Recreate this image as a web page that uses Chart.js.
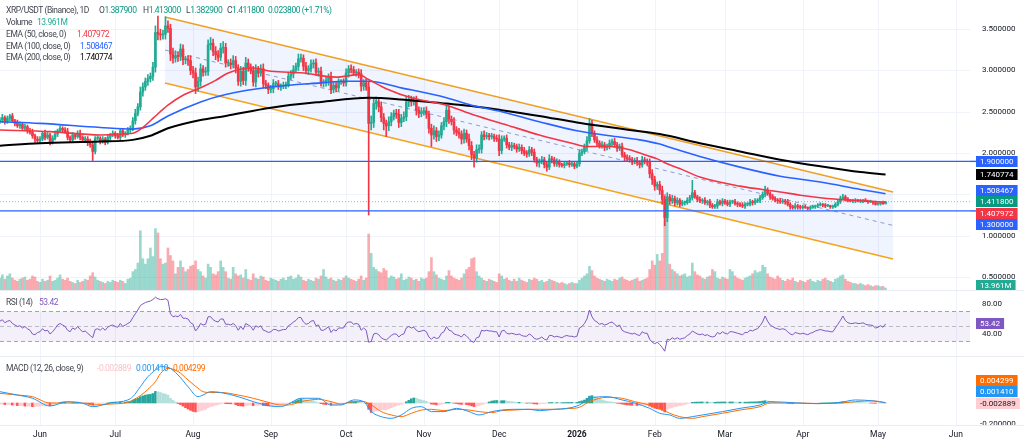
<!DOCTYPE html>
<html>
<head>
<meta charset="utf-8">
<title>XRP/USDT (Binance), 1D</title>
<script src="https://cdn.jsdelivr.net/npm/chart.js@4.4.1/dist/chart.umd.min.js"></script>
<style>
html,body{margin:0;padding:0;background:#fff;}
#wrap{position:relative;width:1024px;height:445px;overflow:hidden;font-family:Roboto,"Noto Sans",sans-serif;}
canvas{position:absolute;left:0;display:block;}
.t{position:absolute;font-size:8.5px;line-height:10px;color:#434651;white-space:nowrap;letter-spacing:-0.45px;}
</style>
</head>
<body>
<div id="wrap">
  <canvas id="cMain" width="1024" height="291" style="top:0"></canvas>
  <canvas id="cRsi" width="1024" height="66" style="top:291px"></canvas>
  <canvas id="cMacd" width="1024" height="88" style="top:357px"></canvas>

  <span class="t" style="left:6px;top:5px">XRP/USDT (Binance), 1D</span>
  <span class="t" style="left:99px;top:5px">O<span style="color:#089981">1.387900</span></span>
  <span class="t" style="left:143px;top:5px">H<span style="color:#089981">1.413000</span></span>
  <span class="t" style="left:186px;top:5px">L<span style="color:#089981">1.382900</span></span>
  <span class="t" style="left:227px;top:5px">C<span style="color:#089981">1.411800</span></span>
  <span class="t" style="left:268px;top:5px;color:#089981">0.023800 (+1.71%)</span>

  <span class="t" style="left:6px;top:17px">Volume</span>
  <span class="t" style="left:37px;top:17px;color:#22ab94">13.961M</span>
  <span class="t" style="left:6px;top:29px">EMA (50, close, 0)</span>
  <span class="t" style="left:77px;top:29px;color:#f23645">1.407972</span>
  <span class="t" style="left:6px;top:40.5px">EMA (100, close, 0)</span>
  <span class="t" style="left:80px;top:40.5px;color:#2962ff">1.508467</span>
  <span class="t" style="left:6px;top:52px">EMA (200, close, 0)</span>
  <span class="t" style="left:80px;top:52px;color:#000">1.740774</span>

  <span class="t" style="left:6px;top:297px">RSI (14)</span>
  <span class="t" style="left:39px;top:297px;color:#7e57c2">53.42</span>

  <span class="t" style="left:6px;top:363px">MACD (12, 26, close, 9)</span>
  <span class="t" style="left:97px;top:363px;color:#f8c4cc">-0.002889</span>
  <span class="t" style="left:136px;top:363px;color:#2196f3">0.001410</span>
  <span class="t" style="left:173px;top:363px;color:#ff6d00">0.004299</span>
</div>
<script>
// ---------------- DATA ----------------
// day index: 0 = 2025-06-01 ; first candle is day -16 (2025-05-16)
const START_DAY = -16;
const FIRST_OPEN = 2.38;

const closes = [
// May 16-31
2.40,2.43,2.38,2.42,2.45,2.39,2.36,2.33,2.35,2.30,2.32,2.27,2.25,2.21,2.17,2.15,
// Jun
2.17,2.24,2.19,2.22,2.14,2.18,2.23,2.27,2.30,2.28,2.26,2.19,2.16,2.22,2.20,2.24,2.19,2.16,2.17,2.13,2.10,2.02,2.18,2.18,2.14,2.17,2.13,2.19,2.22,2.24,
// Jul
2.21,2.19,2.27,2.22,2.24,2.28,2.30,2.39,2.48,2.56,2.74,2.80,2.87,2.90,2.93,3.04,3.46,3.44,3.43,3.44,3.54,3.51,3.20,3.15,3.18,3.17,3.26,3.13,3.13,3.12,3.00,
// Aug
2.97,2.80,2.87,3.02,2.98,2.99,3.31,3.33,3.23,3.19,3.16,3.27,3.28,3.09,3.09,3.07,3.12,3.03,2.87,2.99,2.88,3.09,3.04,3.00,2.86,3.01,2.97,3.02,2.84,2.82,2.77,
// Sep
2.78,2.84,2.84,2.80,2.81,2.82,2.83,2.93,2.96,3.01,3.05,3.14,3.15,3.05,3.00,3.02,3.08,3.09,2.98,2.99,2.85,2.85,2.88,2.92,2.77,2.82,2.79,2.86,2.86,2.85,
// Oct
2.97,3.02,3.01,2.97,2.98,2.96,2.81,2.85,2.80,2.36,2.37,2.60,2.62,2.56,2.43,2.36,2.33,2.38,2.44,2.48,2.47,2.37,2.42,2.44,2.62,2.65,2.62,2.63,2.52,2.48,2.50,
// Nov
2.51,2.47,2.30,2.22,2.27,2.20,2.22,2.33,2.38,2.52,2.41,2.38,2.28,2.25,2.23,2.17,2.24,2.17,2.09,1.98,1.94,2.04,2.05,2.22,2.20,2.21,2.20,2.20,2.18,2.17,
// Dec
2.03,2.17,2.18,2.10,2.07,2.09,2.08,2.05,2.07,2.03,2.00,1.99,2.04,2.01,1.92,1.88,1.90,1.92,1.86,1.83,1.93,1.92,1.87,1.89,1.86,1.85,1.87,1.88,1.86,1.87,1.84,
// Jan 2026
1.87,2.00,2.02,2.07,2.15,2.36,2.24,2.16,2.12,2.09,2.10,2.07,2.08,2.12,2.14,2.10,2.06,2.08,1.98,1.95,1.93,1.92,1.90,1.91,1.88,1.86,1.92,1.90,1.89,1.75,1.68,
// Feb
1.60,1.62,1.55,1.44,1.22,1.47,1.42,1.45,1.40,1.43,1.38,1.40,1.40,1.43,1.46,1.52,1.47,1.44,1.42,1.43,1.40,1.41,1.37,1.35,1.36,1.41,1.39,1.42,
// Mar
1.40,1.38,1.41,1.41,1.39,1.38,1.37,1.36,1.38,1.38,1.41,1.40,1.42,1.43,1.46,1.50,1.55,1.51,1.47,1.45,1.43,1.42,1.41,1.42,1.41,1.38,1.35,1.34,1.36,1.35,1.34,
// Apr
1.35,1.34,1.33,1.34,1.35,1.36,1.37,1.38,1.37,1.36,1.36,1.35,1.35,1.38,1.41,1.45,1.47,1.44,1.43,1.42,1.42,1.43,1.42,1.42,1.43,1.42,1.41,1.41,1.40,1.38,
// May 1-4
1.39,1.40,1.3879,1.4118
];

// wick lengths above / below the candle body, in hundredths of a dollar
const upWick = [
3,4,2,3,2,3,2,4,3,2,3,2,3,4,2,3,
3,2,4,3,2,3,4,2,3,2,3,4,2,3,2,3,4,2,3,3,4,3,2,3,2,3,2,3,2,3,
2,3,2,3,2,3,3,4,5,4,6,5,4,5,4,6,8,20,6,5,11,6,5,7,6,5,6,5,4,5,6,
5,6,5,6,4,5,6,7,5,6,5,6,7,5,4,5,6,5,4,6,5,7,5,4,5,6,4,5,6,4,3,
4,5,3,4,3,4,3,5,4,5,4,6,5,4,5,4,5,4,5,4,5,4,5,4,6,4,5,4,3,4,
5,4,5,4,3,4,5,4,5,6,8,7,6,5,6,5,4,6,5,4,5,6,5,6,7,5,4,5,6,4,5,
4,5,4,5,6,4,5,4,5,6,5,4,5,4,5,4,5,4,6,5,4,6,5,4,5,4,3,4,3,4,
5,4,3,4,3,4,3,3,4,3,4,3,4,3,4,3,3,4,3,4,5,3,3,4,3,2,3,2,3,2,3,
3,4,3,4,5,6,4,3,4,3,4,3,3,4,3,4,3,3,4,3,3,4,3,3,4,3,4,3,3,4,5,
4,3,4,5,4,5,3,4,3,3,2,3,2,3,3,15,3,2,3,2,3,2,3,2,2,3,2,3,
2,3,2,2,3,2,2,3,2,2,3,2,3,2,3,3,5,3,2,3,2,2,3,2,2,3,2,2,3,2,2,
2,2,1,2,2,1,2,2,1,2,2,1,2,2,2,3,3,2,2,1,2,2,1,2,1,2,1,2,1,2,
1,1,2,0.12
];
const downWick = [
2,3,3,2,3,2,3,2,3,2,3,3,2,3,4,2,
3,2,3,2,4,3,2,3,2,3,2,3,3,2,3,2,3,2,3,4,3,11,3,2,3,2,3,2,3,2,
3,2,3,2,3,2,3,3,4,3,4,5,4,5,4,5,6,7,6,5,6,5,8,6,5,6,5,6,5,6,5,
6,8,5,6,5,4,5,6,5,6,5,4,6,5,4,5,4,6,5,6,5,6,5,4,5,6,5,4,5,4,5,
4,5,4,3,4,3,4,3,4,5,4,5,4,5,4,5,4,5,4,5,4,5,4,6,5,4,5,4,3,4,
4,5,4,3,4,5,6,5,4,111,8,6,7,6,5,8,13,6,5,4,5,6,5,4,5,6,5,4,6,5,4,
4,5,6,14,5,6,5,4,5,6,5,4,5,4,5,6,5,4,5,6,11,5,4,5,4,3,4,3,4,3,
6,4,3,4,3,4,3,4,3,4,3,4,3,4,3,4,5,3,4,5,3,4,3,3,3,2,3,2,3,2,3,
2,3,3,3,4,3,4,3,4,3,3,4,3,3,4,3,4,3,3,4,3,3,4,3,3,4,3,3,4,5,6,
5,4,5,6,10,5,4,3,4,3,3,2,3,2,3,3,2,3,2,3,2,3,3,2,2,3,2,3,
2,2,3,2,2,3,2,2,3,2,2,3,2,2,3,2,3,2,3,2,2,3,2,2,3,2,3,2,2,3,2,
2,1,2,2,1,2,2,1,2,2,1,2,2,1,2,2,1,2,2,1,2,2,1,2,2,1,2,1,2,1,
1,2,1,0.5
];

// daily volume, millions of XRP
const volumes = [
60,75,55,70,80,60,50,45,55,60,65,50,55,70,65,45,
40,55,45,50,70,45,50,60,75,55,50,60,45,40,35,50,40,45,55,50,70,85,65,50,45,40,35,45,40,50,
45,40,50,45,35,55,60,90,100,130,280,150,125,150,200,160,290,270,150,125,130,200,165,140,80,110,140,110,90,100,115,
120,140,100,90,70,60,125,110,80,75,90,140,110,90,60,55,110,80,70,75,60,100,55,50,80,60,55,70,65,50,45,
60,55,50,45,55,60,50,65,70,55,60,75,65,50,45,55,50,45,60,55,70,100,65,55,60,50,45,55,50,60,
70,60,55,50,45,55,70,50,60,265,175,110,100,90,85,105,95,60,70,65,55,60,80,50,55,65,60,50,55,45,60,
55,60,90,155,90,75,60,55,50,70,95,70,60,55,50,60,80,100,110,150,155,90,70,60,50,45,55,50,45,40,
80,70,55,60,50,45,55,45,60,50,45,40,55,50,60,55,45,50,40,45,55,50,45,40,35,40,35,30,35,40,35,
35,50,60,70,80,115,95,70,60,55,50,45,55,50,45,55,50,60,65,55,50,45,50,55,60,45,50,55,60,100,140,
120,170,140,175,450,420,125,100,90,80,70,75,80,65,70,130,90,75,70,60,55,65,70,100,90,60,55,65,
60,55,100,90,70,60,55,50,60,65,70,80,95,85,90,120,110,80,65,60,55,70,60,50,45,55,50,60,45,40,50,
45,40,50,55,45,40,50,45,55,60,50,45,40,55,60,70,75,55,45,40,35,35,30,35,30,25,30,25,20,25,
25,20,22,13.961
];

const rsiValues = [
57,59,55,57,58,54,52,50,51,48,50,47,45,40,39,42,
43,47,44,45,40,43,47,52,54,52,50,45,43,48,46,50,46,43,44,41,38,35,46,47,45,48,45,49,51,52,
50,49,54,50,52,54,56,62,67,72,78,80,82,83,84,86,89,87,86,86,87,85,67,63,64,63,66,61,61,60,55,
53,44,48,54,52,53,63,63,59,57,56,60,60,53,53,52,54,51,45,50,46,54,52,50,45,51,49,51,45,44,42,
43,46,46,44,45,46,46,51,53,56,58,62,62,56,53,54,57,58,51,52,45,45,47,50,42,46,44,48,48,48,
54,56,56,53,54,53,45,48,45,29,30,40,41,39,35,33,32,35,38,40,40,36,39,40,48,50,48,49,45,43,44,
45,43,36,33,36,34,35,41,43,50,45,44,40,39,38,36,40,37,34,30,29,35,36,45,44,45,44,44,43,43,
36,44,45,41,40,41,40,39,40,38,37,37,40,38,34,33,34,36,33,32,38,38,36,37,36,35,37,38,37,37,36,
37,48,50,54,60,72,63,58,56,53,54,52,53,55,56,53,50,52,45,43,42,41,40,41,39,38,43,41,41,33,29,
27,29,26,22,17,33,32,35,33,35,33,34,35,38,40,44,42,40,39,40,38,39,37,36,37,42,40,43,
41,40,43,43,42,41,40,39,42,42,45,44,46,47,51,56,64,57,52,50,48,47,46,47,46,43,40,39,42,41,40,
41,40,39,41,42,44,45,46,45,44,44,43,43,48,53,58,64,58,55,54,54,55,54,54,55,53,52,52,51,48,
49,51,49,53.42
];

const macdHist = [
-0.01,-0.01,-0.015,-0.015,-0.015,-0.02,-0.02,-0.025,-0.025,-0.025,-0.03,-0.03,-0.03,-0.035,-0.035,-0.03,
-0.03,-0.025,-0.025,-0.02,-0.025,-0.02,-0.015,-0.005,0.005,0.01,0.01,0.005,0,0.005,0.005,0.008,0.005,0,-0.002,-0.006,-0.012,-0.02,-0.012,-0.008,-0.007,-0.004,-0.004,0,0.004,0.008,
0.008,0.007,0.01,0.008,0.009,0.012,0.015,0.025,0.035,0.045,0.06,0.068,0.075,0.08,0.082,0.09,0.11,0.105,0.1,0.09,0.085,0.075,0.045,0.025,0.01,-0.005,-0.015,-0.03,-0.045,-0.058,-0.07,
-0.08,-0.085,-0.082,-0.075,-0.068,-0.06,-0.045,-0.035,-0.028,-0.022,-0.015,-0.008,-0.004,-0.006,-0.007,-0.008,-0.008,-0.015,-0.025,-0.028,-0.03,-0.025,-0.022,-0.02,-0.025,-0.022,-0.022,-0.02,-0.024,-0.026,-0.028,
-0.028,-0.025,-0.022,-0.02,-0.018,-0.014,-0.01,-0.004,0.002,0.012,0.022,0.03,0.038,0.036,0.03,0.026,0.024,0.02,0.01,0.004,-0.006,-0.012,-0.015,-0.015,-0.022,-0.02,-0.02,-0.015,-0.012,-0.008,
-0.002,0.006,0.012,0.012,0.012,0.01,0.002,0,-0.006,-0.06,-0.09,-0.085,-0.075,-0.068,-0.065,-0.065,-0.065,-0.055,-0.045,-0.035,-0.025,-0.02,-0.012,-0.002,0.012,0.025,0.04,0.048,0.045,0.035,0.028,
0.022,0.015,0.002,-0.01,-0.012,-0.018,-0.018,-0.012,-0.006,0.006,0.006,0.004,-0.002,-0.006,-0.01,-0.014,-0.012,-0.015,-0.02,-0.028,-0.034,-0.03,-0.026,-0.016,-0.008,-0.002,0.01,0.018,0.022,0.024,
0.018,0.022,0.022,0.018,0.015,0.012,0.01,0.006,0.006,0.003,0,-0.002,0,-0.002,-0.008,-0.01,-0.01,-0.006,-0.006,-0.002,0.004,0.005,0.004,0.004,0.003,0.003,0.004,0.005,0.005,0.006,0.005,
0.006,0.014,0.02,0.028,0.045,0.065,0.07,0.06,0.05,0.04,0.03,0.022,0.015,0.012,0.01,0.005,-0.002,-0.004,-0.01,-0.014,-0.018,-0.02,-0.022,-0.022,-0.024,-0.024,-0.02,-0.02,-0.02,-0.03,-0.04,
-0.05,-0.055,-0.06,-0.07,-0.085,-0.06,-0.05,-0.042,-0.035,-0.03,-0.025,-0.02,-0.014,-0.008,-0.002,0.006,0.008,0.009,0.009,0.01,0.009,0.009,0.008,0.007,0.007,0.009,0.009,0.01,
0.01,0.009,0.01,0.01,0.009,0.008,0.008,0.007,0.008,0.008,0.01,0.01,0.011,0.012,0.014,0.018,0.022,0.02,0.016,0.012,0.008,0.005,0.003,0.002,0,-0.003,-0.006,-0.007,-0.006,-0.006,-0.006,
-0.005,-0.005,-0.005,-0.004,-0.003,-0.002,-0.001,0,0.001,0.001,0.001,0.001,0.001,0.003,0.006,0.009,0.012,0.011,0.01,0.008,0.007,0.006,0.005,0.004,0.003,0.002,0,-0.001,-0.002,-0.003,
-0.003,-0.003,-0.003,-0.002889
];

// [day, value] samples
const macdLine = [[-16,0.108],[-9,0.076],[-3,0.045],[4,-0.029],[11,0.013],[17,-0.003],[21,-0.035],[28,0.0],[35,0.029],[37,0.06],[40,0.155],[43,0.25],[46,0.314],[48,0.346],[51,0.34],[55,0.267],[59,0.155],[63,0.06],[65,0.076],[68,0.108],[72,0.1],[79,0.06],[85,0.013],[92,-0.029],[96,-0.035],[99,-0.01],[104,0.045],[111,0.045],[116,-0.019],[120,-0.019],[125,0.029],[129,0.013],[132,-0.082],[136,-0.13],[140,-0.146],[144,-0.114],[148,-0.051],[152,-0.035],[156,-0.082],[161,-0.082],[166,-0.051],[171,-0.082],[175,-0.114],[180,-0.082],[184,-0.067],[189,-0.06],[195,-0.06],[199,-0.073],[205,-0.06],[210,-0.051],[215,-0.019],[219,0.045],[226,0.06],[232,0.029],[237,0.0],[243,-0.051],[247,-0.098],[251,-0.114],[255,-0.146],[260,-0.13],[264,-0.114],[272,-0.082],[279,-0.051],[287,-0.019],[291,0.013],[302,0.0],[310,-0.006],[319,0.006],[325,0.029],[332,0.02],[337,0.00141]];
const signalLine = [[-16,0.092],[-9,0.076],[-3,0.06],[4,0.0],[11,0.0],[17,0.0],[21,-0.019],[28,-0.01],[35,0.006],[37,0.029],[40,0.07],[43,0.13],[46,0.203],[48,0.28],[51,0.33],[55,0.3],[59,0.22],[63,0.14],[65,0.108],[68,0.1],[72,0.1],[79,0.076],[85,0.045],[92,0.0],[96,-0.019],[99,-0.019],[104,0.013],[111,0.035],[116,0.013],[120,-0.01],[125,0.013],[129,0.013],[132,-0.019],[136,-0.082],[140,-0.114],[144,-0.13],[148,-0.098],[152,-0.067],[156,-0.06],[161,-0.073],[166,-0.06],[171,-0.067],[175,-0.082],[180,-0.092],[184,-0.073],[189,-0.067],[195,-0.06],[199,-0.06],[205,-0.06],[210,-0.054],[215,-0.041],[219,0.013],[226,0.054],[232,0.045],[237,0.013],[243,-0.019],[247,-0.051],[251,-0.098],[255,-0.13],[260,-0.146],[264,-0.13],[272,-0.098],[279,-0.067],[287,-0.035],[291,0.0],[302,0.0],[310,-0.006],[319,0.0],[325,0.013],[332,0.02],[337,0.004299]];

const ema50 = [[-16,2.28],[4,2.26],[24,2.22],[37,2.24],[41,2.31],[45,2.42],[51,2.58],[57,2.70],[64,2.79],[70,2.88],[75,2.97],[85,3.03],[92,2.99],[105,2.97],[118,2.92],[127,2.95],[131,2.89],[138,2.78],[148,2.67],[162,2.58],[173,2.46],[186,2.34],[199,2.22],[212,2.12],[218,2.08],[227,2.08],[235,2.04],[242,1.97],[246,1.93],[250,1.87],[256,1.80],[263,1.71],[279,1.60],[295,1.53],[303,1.49],[311,1.46],[323,1.43],[337,1.407972]];
const ema100 = [[-16,2.38],[0,2.36],[24,2.31],[37,2.29],[44,2.33],[51,2.45],[64,2.62],[74,2.71],[92,2.80],[112,2.85],[122,2.87],[131,2.87],[144,2.79],[162,2.67],[172,2.58],[184,2.50],[199,2.38],[214,2.27],[227,2.21],[239,2.16],[247,2.11],[250,2.08],[263,1.96],[279,1.83],[295,1.72],[311,1.65],[327,1.56],[337,1.508467]];
const ema200 = [[-16,2.09],[0,2.12],[24,2.14],[37,2.16],[44,2.21],[51,2.30],[64,2.40],[74,2.45],[92,2.55],[112,2.62],[131,2.67],[144,2.65],[162,2.60],[172,2.57],[184,2.52],[199,2.45],[214,2.37],[223,2.33],[235,2.28],[247,2.23],[263,2.12],[279,2.02],[295,1.92],[311,1.84],[327,1.77],[337,1.740774]];

// descending channel drawn on the chart: [day, price]
const channelUpper = [[49.8,3.648],[340,1.529]];
const channelLower = [[49.8,2.849],[340,0.718]];
const channelMid   = [[49.8,3.248],[340,1.124]];
const levels = [1.9, 1.3];
const lastPrice = 1.4118;

const monthTicks = [[0,'Jun'],[30,'Jul'],[61,'Aug'],[92,'Sep'],[122,'Oct'],[153,'Nov'],[183,'Dec'],[214,'2026'],[245,'Feb'],[273,'Mar'],[304,'Apr'],[334,'May'],[365,'Jun']];
const priceTicks = [0.5,1,1.5,2,2.5,3,3.5];
const rsiTicks = [40,80];
const macdTicks = [-0.2];
const priceBoxes = [
  {v:1.9,      text:'1.900000', bg:'#2962ff', fg:'#fff'},
  {v:1.740774, text:'1.740774', bg:'#000000', fg:'#fff'},
  {v:1.508467, text:'1.508467', bg:'#2962ff', fg:'#fff'},
  {v:1.4118,   text:'1.411800', bg:'#089981', fg:'#fff', anchor:true},
  {v:1.407972, text:'1.407972', bg:'#f23645', fg:'#fff'},
  {v:1.3,      text:'1.300000', bg:'#2962ff', fg:'#fff'}
];
const macdBoxes = [
  {v:0.004299,  text:'0.004299',  bg:'#ff6d00', fg:'#fff'},
  {v:0.00141,   text:'0.001410',  bg:'#2196f3', fg:'#fff'},
  {v:-0.002889, text:'-0.002889', bg:'#ffcdd2', fg:'#131722', anchor:true}
];

// ---------------- LAYOUT ----------------
const X_MIN = -15.94, X_MAX = 370.66, AXIS_W = 54;
const UP = '#22ab94', DN = '#f23645';
const UPV = 'rgba(34,171,148,0.45)', DNV = 'rgba(242,54,69,0.42)';
const FONT = 'Roboto, "Noto Sans", sans-serif';

[upWick, downWick, volumes, rsiValues, macdHist].forEach((a,k)=>{
  if (a.length !== closes.length) console.error('length mismatch', k, a.length, closes.length);
});

const days = closes.map((_, i) => START_DAY + i);
const opens = closes.map((c, i) => i === 0 ? FIRST_OPEN : closes[i-1]);
const highs = closes.map((c, i) => Math.max(opens[i], c) + upWick[i]/100);
const lows  = closes.map((c, i) => Math.min(opens[i], c) - downWick[i]/100);
const isUp  = closes.map((c, i) => c >= opens[i]);
const pts = arr => arr.map(([x,y]) => ({x, y}));
const hline = v => [{x:X_MIN,y:v},{x:X_MAX,y:v}];

const gridPlugin = {
  id: 'tvGrid',
  beforeDatasetsDraw(chart, args, opts) {
    const {ctx, chartArea:a, scales} = chart;
    ctx.save();
    ctx.strokeStyle = '#f0f3fa'; ctx.lineWidth = 1;
    monthTicks.forEach(([d]) => {
      const x = Math.round(scales.x.getPixelForValue(d)) + 0.5;
      ctx.beginPath(); ctx.moveTo(x, a.top); ctx.lineTo(x, a.bottom); ctx.stroke();
    });
    (opts.hLines || []).forEach(v => {
      const y = Math.round(scales.y.getPixelForValue(v)) + 0.5;
      ctx.beginPath(); ctx.moveTo(a.left, y); ctx.lineTo(a.right, y); ctx.stroke();
    });
    ctx.restore();
  }
};

function drawBox(ctx, text, yc, bg, fg) {
  const w = ctx.measureText(text).width + 8;
  ctx.fillStyle = bg;
  ctx.fillRect(976, Math.round(yc - 5.5), w, 11);
  ctx.fillStyle = fg;
  ctx.fillText(text, 980, yc + 0.5);
}
function stackBoxes(list, yOf, H) {
  const b = list.map(o => Object.assign({}, o, {y: yOf(o.v)})).sort((p,q) => p.y - q.y);
  const ai = b.findIndex(o => o.anchor);
  for (let i = ai - 1; i >= 0; i--) b[i].y = Math.min(b[i].y, b[i+1].y - H);
  for (let i = ai + 1; i < b.length; i++) b[i].y = Math.max(b[i].y, b[i-1].y + H);
  return b;
}
function sepLine(ctx, y) {
  ctx.save(); ctx.strokeStyle = '#e9ecf2'; ctx.lineWidth = 1;
  ctx.beginPath(); ctx.moveTo(0, y); ctx.lineTo(1024, y); ctx.stroke(); ctx.restore();
}

const common = (padBottom) => ({
  responsive: false, animation: false, events: [],
  layout: {padding: {left: 0, right: AXIS_W, top: 0, bottom: padBottom}},
});

// ---------------- MAIN PANE ----------------
const mainLabels = {
  id: 'mainLabels',
  afterDraw(chart) {
    const {ctx, scales} = chart;
    ctx.save();
    ctx.font = '8px ' + FONT; ctx.textAlign = 'left'; ctx.textBaseline = 'middle';
    ctx.fillStyle = '#131722';
    priceTicks.forEach(v => ctx.fillText(v.toFixed(6), 982, scales.y.getPixelForValue(v)));
    ctx.strokeStyle = '#2962ff'; ctx.lineWidth = 1.4;
    levels.forEach(v => { const y = scales.y.getPixelForValue(v); ctx.beginPath(); ctx.moveTo(970, y); ctx.lineTo(976, y); ctx.stroke(); });
    stackBoxes(priceBoxes, v => scales.y.getPixelForValue(v), 11.5)
      .forEach(b => drawBox(ctx, b.text, b.y, b.bg, b.fg));
    const vy = Math.min(scales.yv.getPixelForValue(volumes[volumes.length-1]), 285);
    drawBox(ctx, '13.961M', vy, '#22ab94', '#fff');
    ctx.restore();
    sepLine(ctx, 290.5);
  }
};

new Chart(document.getElementById('cMain'), {
  type: 'bar',
  data: { datasets: [
    {type:'bar', data: days.map((d,i)=>({x:d, y:volumes[i]})), yAxisID:'yv',
     backgroundColor: isUp.map(u => u ? UPV : DNV), barThickness: 2, grouped: false, order: 100},
    {type:'line', data: pts(channelUpper), borderColor:'#f7a21b', borderWidth:1.5, pointRadius:0, fill:false, order: 90},
    {type:'line', data: pts(channelLower), borderColor:'#f7a21b', borderWidth:1.5, pointRadius:0,
     fill:'-1', backgroundColor:'rgba(41,98,255,0.07)', order: 89},
    {type:'line', data: pts(channelMid), borderColor:'#8e9cc6', borderWidth:1, borderDash:[4,4], pointRadius:0, order: 88},
    {type:'line', data: hline(lastPrice), borderColor:'rgba(8,153,129,0.55)', borderWidth:1, borderDash:[1,2], pointRadius:0, order: 80},
    {type:'bar', data: days.map((d,i)=>({x:d, y:[lows[i], highs[i]]})),
     backgroundColor: isUp.map(u => u ? UP : DN), barThickness: 1, grouped: false, order: 50},
    {type:'bar', data: days.map((d,i)=>({x:d, y:[opens[i], closes[i]]})),
     backgroundColor: isUp.map(u => u ? UP : DN), barThickness: 2, minBarLength: 1, grouped: false, order: 49},
    ...levels.map(v => ({type:'line', data: hline(v), borderColor:'#2962ff', borderWidth:1.4, pointRadius:0, order: 45})),
    {type:'line', data: pts(ema200), borderColor:'#000000', borderWidth:2, pointRadius:0, cubicInterpolationMode:'monotone', order: 30},
    {type:'line', data: pts(ema100), borderColor:'#2962ff', borderWidth:1.6, pointRadius:0, cubicInterpolationMode:'monotone', order: 29},
    {type:'line', data: pts(ema50),  borderColor:'#f23645', borderWidth:1.6, pointRadius:0, cubicInterpolationMode:'monotone', order: 28}
  ]},
  options: Object.assign(common(0), {
    plugins: {legend:{display:false}, tooltip:{enabled:false}, tvGrid:{hLines: priceTicks}},
    scales: {
      x: {type:'linear', min:X_MIN, max:X_MAX, display:false, offset:false},
      y: {type:'linear', min:0.3305, max:3.8535, display:false, beginAtZero:false},
      yv:{type:'linear', min:0, max:1353, display:false}
    }
  }),
  plugins: [gridPlugin, mainLabels]
});

// ---------------- RSI PANE ----------------
const rsiLabels = {
  id: 'rsiLabels',
  afterDraw(chart) {
    const {ctx, scales} = chart;
    ctx.save();
    ctx.font = '8px ' + FONT; ctx.textAlign = 'left'; ctx.textBaseline = 'middle';
    ctx.fillStyle = '#131722';
    rsiTicks.forEach(v => ctx.fillText(v.toFixed(2), 982, scales.y.getPixelForValue(v)));
    const last = rsiValues[rsiValues.length-1];
    drawBox(ctx, last.toFixed(2), scales.y.getPixelForValue(last), '#7e57c2', '#fff');
    ctx.restore();
    sepLine(ctx, 65.5);
  }
};
new Chart(document.getElementById('cRsi'), {
  type: 'line',
  data: { datasets: [
    {data: hline(70), borderColor:'#a3a6af', borderWidth:1, borderDash:[4,3], pointRadius:0, fill:false, order: 10},
    {data: hline(30), borderColor:'#a3a6af', borderWidth:1, borderDash:[4,3], pointRadius:0, fill:'-1', backgroundColor:'rgba(126,87,194,0.09)', order: 9},
    {data: hline(50), borderColor:'rgba(163,166,175,0.7)', borderWidth:1, borderDash:[4,3], pointRadius:0, order: 8},
    {data: days.map((d,i)=>({x:d, y:rsiValues[i]})), borderColor:'#7e57c2', borderWidth:1, pointRadius:0, order: 1}
  ]},
  options: Object.assign(common(0), {
    plugins: {legend:{display:false}, tooltip:{enabled:false}, tvGrid:{}},
    scales: {
      x: {type:'linear', min:X_MIN, max:X_MAX, display:false, offset:false},
      y: {type:'linear', min:9.33, max:97.33, display:false}
    }
  }),
  plugins: [gridPlugin, rsiLabels]
});

// ---------------- MACD PANE ----------------
const histColors = macdHist.map((v, i) => {
  const p = i ? macdHist[i-1] : v;
  if (v >= 0) return v >= p ? '#26a69a' : '#b2dfdb';
  return v < p ? '#ff5252' : '#ffcdd2';
});
const macdLabels = {
  id: 'macdLabels',
  afterDraw(chart) {
    const {ctx, scales, chartArea:a} = chart;
    ctx.save();
    ctx.font = '8px ' + FONT; ctx.textAlign = 'left'; ctx.textBaseline = 'middle';
    ctx.save();
    ctx.beginPath(); ctx.rect(a.right, 0, 1024 - a.right, a.bottom + 0.5); ctx.clip();
    ctx.fillStyle = '#131722';
    macdTicks.forEach(v => ctx.fillText(v.toFixed(6), 980, scales.y.getPixelForValue(v)));
    ctx.restore();
    stackBoxes(macdBoxes, v => scales.y.getPixelForValue(v), 11.5)
      .forEach(b => drawBox(ctx, b.text, b.y, b.bg, b.fg));
    ctx.textAlign = 'center'; ctx.fillStyle = '#131722';
    monthTicks.forEach(([d, t]) => {
      ctx.font = (t === '2026' ? 'bold ' : '') + '8.5px ' + FONT;
      ctx.fillText(t, scales.x.getPixelForValue(d), 78);
    });
    ctx.restore();
    sepLine(ctx, a.bottom + 0.5);
  }
};
new Chart(document.getElementById('cMacd'), {
  type: 'bar',
  data: { datasets: [
    {type:'bar', data: days.map((d,i)=>({x:d, y:macdHist[i]})), backgroundColor: histColors, barThickness: 2, grouped:false, order: 10},
    {type:'line', data: pts(signalLine), borderColor:'#ff6d00', borderWidth:1, pointRadius:0, cubicInterpolationMode:'monotone', order: 2},
    {type:'line', data: pts(macdLine), borderColor:'#2196f3', borderWidth:1, pointRadius:0, cubicInterpolationMode:'monotone', order: 1}
  ]},
  options: Object.assign(common(20), {
    plugins: {legend:{display:false}, tooltip:{enabled:false}, tvGrid:{}},
    scales: {
      x: {type:'linear', min:X_MIN, max:X_MAX, display:false, offset:false},
      y: {type:'linear', min:-0.2095, max:0.438, display:false, beginAtZero:false}
    }
  }),
  plugins: [gridPlugin, macdLabels]
});
</script>
</body>
</html>
